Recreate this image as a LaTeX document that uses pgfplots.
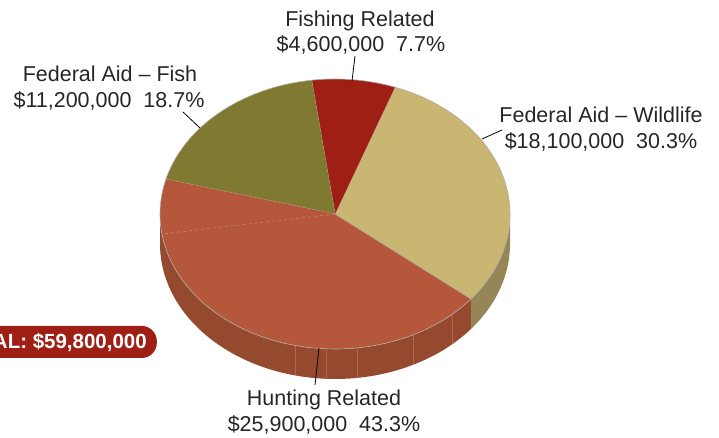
\documentclass[border=0pt]{standalone}
\usepackage{pgfplots}
\pgfplotsset{compat=1.18}
\usepackage{fontspec}
\setmainfont{Liberation Sans}
\definecolor{cFish}{HTML}{A01F15}
\definecolor{cFedFish}{HTML}{7F7932}
\definecolor{cWild}{HTML}{C9B672}
\definecolor{cWildSide}{HTML}{968657}
\definecolor{cHunt}{HTML}{B5573A}
\definecolor{cHuntSide}{HTML}{954A30}
\definecolor{cEdge}{HTML}{B4AEA8}
\definecolor{cTxt}{HTML}{262626}
\definecolor{cPill}{HTML}{A01F15}
% data (dollars, millions)
\def\vWild{18.1}
\def\vFish{4.6}
\def\vFedFish{11.2}
\def\vHunt{25.9}
\pgfmathsetmacro{\vTot}{\vWild+\vFish+\vFedFish+\vHunt}
\pgfmathsetmacro{\aZero}{-39}
\pgfmathsetmacro{\aOne}{\aZero+360*\vWild/\vTot}
\pgfmathsetmacro{\aTwo}{\aOne+360*\vFish/\vTot}
\pgfmathsetmacro{\aThree}{\aTwo+360*\vFedFish/\vTot}
\pgfmathsetmacro{\aFour}{\aThree+360*\vHunt/\vTot}
\def\cx{335}\def\cy{224}\def\rx{175}\def\ry{135}\def\dep{30}
\newcommand{\sector}[3]{%
\addplot[fill=#3, draw=cEdge, line width=0.6pt, samples at={0,1,...,101}, variable=\t]
 ({\t<=100 ? \cx+\rx*cos(#1+(#2-#1)*\t/100) : \cx},
  {\t<=100 ? \cy+\ry*sin(#1+(#2-#1)*\t/100) : \cy});}
\newcommand{\side}[3]{%
\addplot[fill=#3, draw=none, samples at={0,1,...,100,200,201,...,300}, variable=\t]
 ({\cx+\rx*cos(\t<=100 ? #1+(#2-#1)*\t/100 : #1+(#2-#1)*(300-\t)/100)},
  {\cy+\ry*sin(\t<=100 ? #1+(#2-#1)*\t/100 : #1+(#2-#1)*(300-\t)/100)-(\t>150)*\dep});}
\begin{document}
\begin{tikzpicture}
\useasboundingbox (0,0) rectangle (719pt,438pt);
\clip (0,0) rectangle (719pt,438pt);
\begin{axis}[at={(0,0)}, anchor=south west, scale only axis,
  width=719pt, height=438pt, xmin=0, xmax=719, ymin=0, ymax=438,
  hide axis, clip=false]
% sides
\side{180}{\aFour}{cHuntSide}
\side{\aFour}{360}{cWildSide}
\addplot[color=cHunt!80!white, line width=0.4pt, opacity=0.6] coordinates {(295,92.5) (295,62.5)};
\addplot[color=cHunt!80!white, line width=0.4pt, opacity=0.6] coordinates {(326,89.2) (326,59.2)};
\addplot[color=cHunt!80!white, line width=0.4pt, opacity=0.6] coordinates {(357,90.1) (357,60.1)};
\addplot[color=cHunt!80!white, line width=0.4pt, opacity=0.6] coordinates {(413,103.2) (413,73.2)};
\addplot[color=cHunt!80!white, line width=0.4pt, opacity=0.6] coordinates {(452,123.6) (452,93.6)};
% tops
\sector{\aZero}{\aOne}{cWild}
\sector{\aOne}{\aTwo}{cFish}
\sector{\aTwo}{\aThree}{cFedFish}
\sector{\aThree}{\aFour}{cHunt}
\addplot[color=cHunt!70!white, dashed, line width=0.5pt] coordinates {(335,224) (162,204)};
% leaders
\addplot[color=black, line width=0.8pt] coordinates {(355,382) (352,357)};
\addplot[color=black, line width=0.8pt] coordinates {(183,326) (200,310)};
\addplot[color=black, line width=0.8pt] coordinates {(482,299) (502,308)};
\addplot[color=black, line width=0.8pt] coordinates {(319,90) (315,53)};
% labels
\begin{scope}[every node/.style={text=cTxt, font=\fontsize{21.5}{26}\selectfont, anchor=base, inner sep=0pt}]
\node at (axis cs:360,411) {Fishing Related};
\node at (axis cs:361,386) {\$4,600,000\ \ 7.7\%};
\node at (axis cs:110,356) {Federal Aid – Fish};
\node at (axis cs:109,330) {\$11,200,000\ \ 18.7\%};
\node at (axis cs:601,315) {Federal Aid – Wildlife};
\node at (axis cs:601,289) {\$18,100,000\ \ 30.3\%};
\node at (axis cs:324,32) {Hunting Related};
\node at (axis cs:324,6) {\$25,900,000\ \ 43.3\%};
\end{scope}
\node[anchor=east, fill=cPill, text=white, rounded corners=15pt,
  font=\fontsize{20.5}{24}\selectfont\bfseries, minimum height=32pt,
  inner xsep=10pt, inner ysep=0pt] at (axis cs:157,96) {TOTAL: \$59,800,000};
\end{axis}
\end{tikzpicture}
\end{document}
